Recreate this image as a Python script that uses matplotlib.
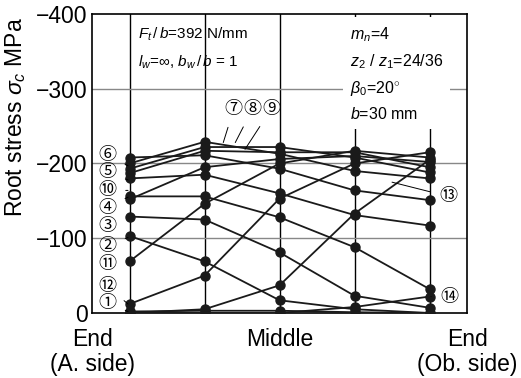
import numpy as np
import matplotlib.pyplot as plt

plt.rcParams['font.family'] = ['Liberation Sans', 'DejaVu Sans']
plt.rcParams['mathtext.fontset'] = 'custom'
plt.rcParams['mathtext.rm'] = 'Liberation Sans'
plt.rcParams['mathtext.it'] = 'Liberation Sans:italic'

# root stress (MPa) at five points across the face width, one list per load position
case1 = [-2, -3, -3, -1, 0]
case2 = [-103, -69, -17, -5, 0]
case3 = [-129, -125, -81, -23, -7]
case4 = [-156, -156, -128, -88, -32]
case5 = [-180, -185, -160, -131, -117]
case6 = [-208, -211, -193, -164, -151]
case7 = [-200, -229, -213, -190, -180]
case8 = [-193, -222, -222, -208, -188]
case9 = [-187, -217, -215, -215, -195]
case10 = [-152, -195, -206, -210, -202]
case11 = [-69, -146, -200, -217, -208]
case12 = [-12, -50, -153, -200, -215]
case13 = [0, -5, -37, -133, -205]
case14 = [0, 0, 0, -8, -22]
cases = [case1, case2, case3, case4, case5, case6, case7,
         case8, case9, case10, case11, case12, case13, case14]

side_labels = ["End\n(A. side)", "Middle", "End\n(Ob. side)"]
yticks = [0, -100, -200, -300, -400]
circled = "①②③④⑤⑥⑦⑧⑨⑩⑪⑫⑬⑭"

fig = plt.figure(figsize=(5.21, 3.78), dpi=100)
ax = fig.add_axes([0.1766, 0.172, 0.7198, 0.791])

faces = np.arange(5) + 0.5
for xf in faces:
    ax.axvline(xf, color='black', lw=1.0, zorder=1)
for yv in yticks[1:4]:
    ax.axhline(yv, color='#888888', lw=1.0, zorder=1)

for c in cases:
    ax.plot(faces, c, color='#1a1a1a', lw=1.3, marker='o', ms=6.5, zorder=3)

ax.set_xlim(0, 5)
ax.set_ylim(0, -400)
ax.set_xticks([0, 2.5, 5])
ax.set_xticklabels(side_labels, fontsize=16.5, linespacing=1.1)
ax.set_yticks(yticks)
ax.set_yticklabels(['0', '\u2212100', '\u2212200', '\u2212300', '\u2212400'], fontsize=16.5)
ax.tick_params(length=0, pad=3)
ax.tick_params(axis='x', pad=11)
for s in ax.spines.values():
    s.set_linewidth(1.2)

fig.text(0.03, 0.69, r"Root stress $\sigma_c$ MPa", rotation=90,
         ha='center', va='center', fontsize=16.5)

# condition text
ax.text(0.61, -373, r"$F_t\,/\,b$=392 N/mm", fontsize=11, va='center')
ax.text(0.61, -335, r"$l_w$=$\infty$, $b_w\,/\,b$ = 1", fontsize=11, va='center')
ax.text(3.44, -320, r"$m_n$=4" "\n" r"$z_2$ / $z_1$=24/36" "\n" r"$\beta_0$=20$^{\circ}$" "\n" r"$b$=30 mm",
        fontsize=11.5, va='center', linespacing=1.6, zorder=5,
        bbox=dict(facecolor='white', edgecolor='none', pad=5))

# circled case numbers with leaders
cfont = dict(family=['Noto Sans CJK JP', 'DejaVu Sans'], fontsize=13,
             ha='center', va='center', zorder=6)
leaders = [
    (1, (0.2, -13), (0.48, -2)),
    (2, (0.2, -89), (0.48, -101)),
    (3, (0.2, -116), None),
    (4, (0.2, -141), (0.48, -155)),
    (5, (0.2, -188), (0.48, -178)),
    (6, (0.2, -212), (0.48, -197)),
    (7, (1.89, -273), (1.75, -228)),
    (8, (2.14, -273), (1.91, -228)),
    (9, (2.39, -273), (2.04, -219)),
    (10, (0.2, -164), (0.48, -164)),
    (11, (0.2, -65), None),
    (12, (0.2, -36), (0.48, -12)),
    (13, (4.75, -156), (4.0, -175)),
    (14, (4.77, -21), (4.52, -22)),
]
for n, (lx, ly), tip in leaders:
    if tip is None:
        ax.text(lx, ly, circled[n - 1], **cfont)
    else:
        ax.annotate(circled[n - 1], xy=tip, xytext=(lx, ly),
                    arrowprops=dict(arrowstyle='-', color='black', lw=0.7,
                                    shrinkA=5, shrinkB=0), **cfont)

fig.savefig('out.png', dpi=100)
